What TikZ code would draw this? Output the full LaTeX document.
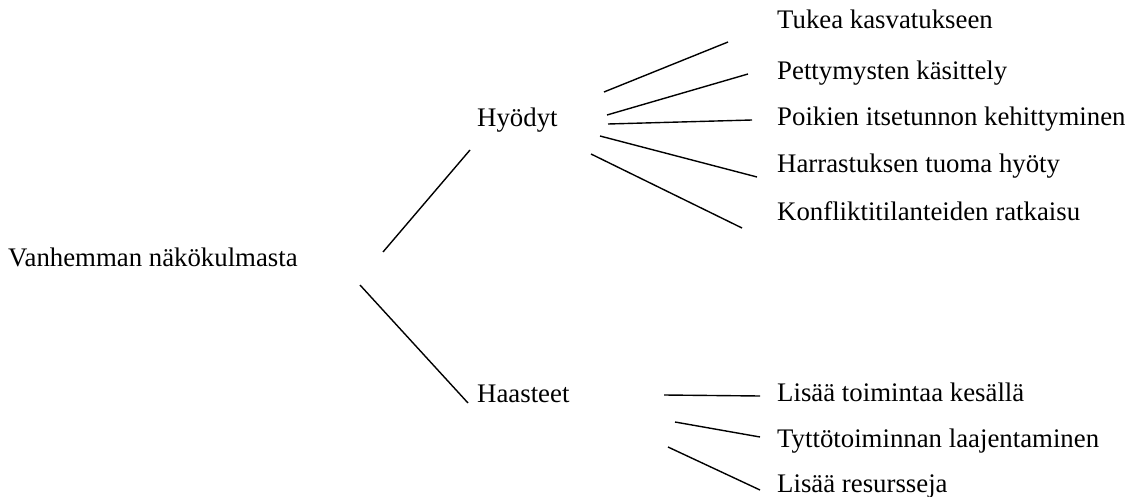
\documentclass[tikz,border=0pt]{standalone}
\usepackage{fontspec}
\setmainfont{Liberation Serif}
\begin{document}
\begin{tikzpicture}[x=1pt,y=-1pt,
  lbl/.style={anchor=base west,inner sep=0pt,font=\fontsize{26.8}{30}\selectfont},
  conn/.style={line width=1.4pt}]
\useasboundingbox (0,0) rectangle (1129,497);
% texts
\node[lbl] (root) at (8,266) {Vanhemman näkökulmasta};
\node[lbl] (hy) at (477,127) {Hyödyt};
\node[lbl] (ha) at (477,402) {Haasteet};
\node[lbl] (t1) at (777,29) {Tukea kasvatukseen};
\node[lbl] (t2) at (777,80) {Pettymysten käsittely};
\node[lbl] (t3) at (777,126) {Poikien itsetunnon kehittyminen};
\node[lbl] (t4) at (777,173) {Harrastuksen tuoma hyöty};
\node[lbl] (t5) at (777,220) {Konfliktitilanteiden ratkaisu};
\node[lbl] (s1) at (777,401) {Lisää toimintaa kesällä};
\node[lbl] (s2) at (777,447) {Tyttötoiminnan laajentaminen};
\node[lbl] (s3) at (777,492) {Lisää resursseja};
% connector end points
\coordinate (r1a) at (383,252); \coordinate (r1b) at (470,150);
\coordinate (r2a) at (360,285); \coordinate (r2b) at (468,403);
\coordinate (h1a) at (604,92);  \coordinate (h1b) at (728,42);
\coordinate (h2a) at (607,115); \coordinate (h2b) at (748,74);
\coordinate (h3a) at (608,124); \coordinate (h3b) at (752,120);
\coordinate (h4a) at (600,136); \coordinate (h4b) at (757,177);
\coordinate (h5a) at (591,154); \coordinate (h5b) at (742,228);
\coordinate (a1a) at (664,395); \coordinate (a1b) at (760,396);
\coordinate (a2a) at (675,422); \coordinate (a2b) at (760,437);
\coordinate (a3a) at (668,447); \coordinate (a3b) at (760,490);
\foreach \p in {r1,r2,h1,h2,h3,h4,h5,a1,a2,a3}
  \draw[conn] (\p a) -- (\p b);
\end{tikzpicture}
\end{document}
